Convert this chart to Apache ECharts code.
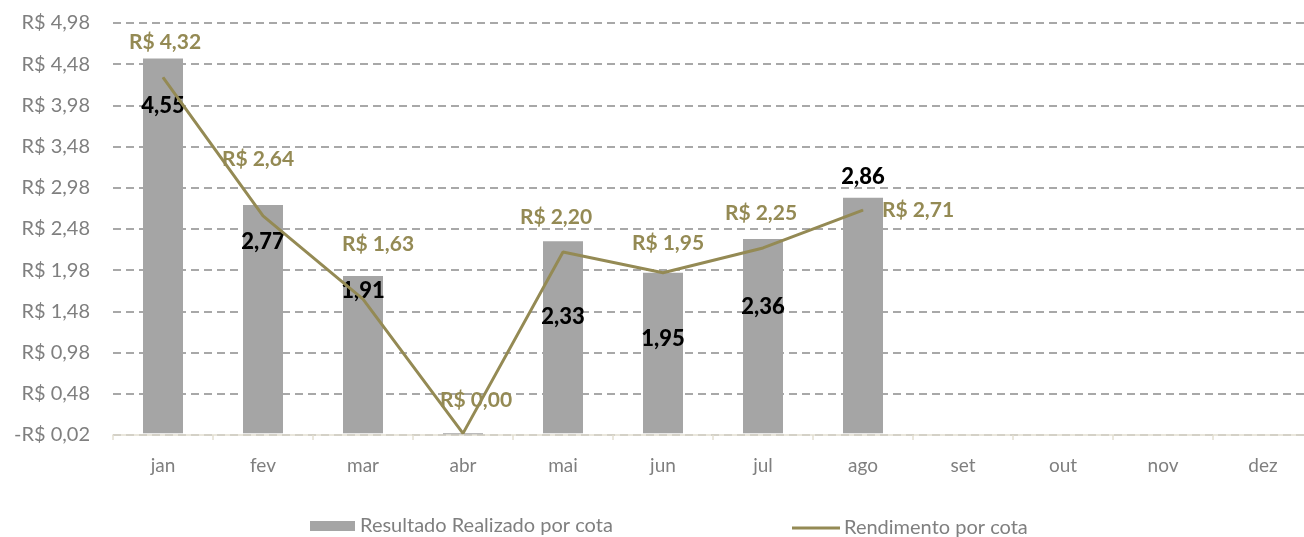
<!DOCTYPE html>
<html>
<head>
<meta charset="utf-8">
<script src="https://cdn.jsdelivr.net/npm/echarts@6/dist/echarts.min.js"></script>
<style>
  html, body { margin: 0; padding: 0; background: #fff; }
  #chart { width: 1304px; height: 537px; }
</style>
</head>
<body>
<div id="chart"></div>
<script>
// data
const months = ["jan", "fev", "mar", "abr", "mai", "jun", "jul", "ago", "set", "out", "nov", "dez"];
const resultadoRealizado = [4.55, 2.77, 1.91, -0.01, 2.33, 1.95, 2.36, 2.86];
const rendimento = [4.32, 2.64, 1.63, 0.00, 2.20, 1.95, 2.25, 2.71];
const yMin = -0.02;
const yMax = 4.98;

// label placement (style only)
const barLabelDy = [31, 21, -1, null, 60, 50, 52, -37];
const lineLabelOffset = [[2, -35], [-5, -57], [15, -55], [13, -33], [-7, -35], [5, -29], [-2, -35], [55, 0]];

const fmt = v => v.toFixed(2).replace(".", ",");
const labelFont = "Lato";

const chart = echarts.init(document.getElementById("chart"));

const option = {
  animation: false,
  textStyle: { fontFamily: labelFont },
  grid: { left: 113, top: 23, width: 1200, height: 412, containLabel: false, outerBoundsMode: "none" },
  legend: [
    {
      left: 305, top: 511,
      itemWidth: 45, itemHeight: 10,
      icon: "rect",
      data: ["Resultado Realizado por cota"],
      textStyle: { color: "#7f7f7f", fontSize: 20, fontFamily: labelFont }
    },
    {
      left: 787, top: 513,
      itemWidth: 48, itemHeight: 3,
      icon: "rect",
      data: ["Rendimento por cota"],
      textStyle: { color: "#7f7f7f", fontSize: 20, fontFamily: labelFont, padding: [0, 0, 0, -1] }
    }
  ],
  xAxis: {
    type: "category",
    data: months,
    axisLine: { onZero: false, lineStyle: { color: "#e3dfd2", width: 1.5 } },
    axisTick: { show: true, length: 5, lineStyle: { color: "#e3dfd2", width: 1.5 } },
    axisLabel: { color: "#7f7f7f", fontSize: 19, margin: 21, fontFamily: labelFont }
  },
  yAxis: [
    {
      type: "value",
      min: yMin,
      max: yMax,
      show: false,
      splitLine: { show: false }
    },
    {
      type: "value",
      position: "left",
      min: 0,
      max: 5,
      interval: 0.5,
      axisLine: { show: false },
      axisTick: { show: false },
      axisLabel: {
        color: "#7f7f7f",
        fontSize: 20,
        margin: 23,
        fontFamily: labelFont,
        formatter: v => {
          const r = v + yMin;
          return (r < 0 ? "-R$ " : "R$ ") + fmt(Math.abs(r));
        }
      },
      splitLine: { lineStyle: { color: "#8c8c8c", type: [8, 5], width: 1.5 } }
    }
  ],
  series: [
    {
      name: "Resultado Realizado por cota",
      type: "bar",
      yAxisIndex: 0,
      barWidth: 40,
      itemStyle: { color: "#a5a5a5" },
      data: resultadoRealizado.map((v, i) => ({
        value: v,
        label: barLabelDy[i] === null ? { show: false } : {
          show: true,
          position: "insideTop",
          offset: [0, barLabelDy[i]],
          color: "#000",
          fontWeight: 900,
          fontSize: 22,
          fontFamily: labelFont,
          formatter: p => fmt(p.value)
        }
      }))
    },
    {
      name: "Rendimento por cota",
      type: "line",
      yAxisIndex: 0,
      symbol: "circle",
      symbolSize: 1,
      lineStyle: { color: "#948a54", width: 3 },
      itemStyle: { color: "#948a54" },
      z: 5,
      data: rendimento.map((v, i) => ({
        value: v,
        label: {
          show: true,
          position: "inside",
          offset: lineLabelOffset[i],
          color: "#948a54",
          fontWeight: "bold",
          fontSize: 21,
          fontFamily: labelFont,
          formatter: p => "R$ " + fmt(p.value)
        }
      }))
    }
  ]
};

chart.setOption(option);
</script>
</body>
</html>
